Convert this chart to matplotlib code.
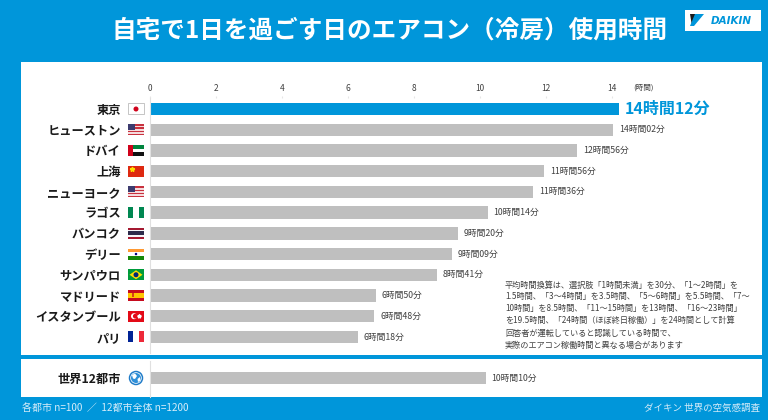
import matplotlib
matplotlib.use("Agg")
import matplotlib.pyplot as plt
from matplotlib.patches import Rectangle, Ellipse, Polygon
from matplotlib.lines import Line2D

plt.rcParams['font.family'] = ['Noto Sans CJK JP', 'DejaVu Sans']

# ---------------- data ----------------
cities = ["東京", "ヒューストン", "ドバイ", "上海", "ニューヨーク", "ラゴス",
          "バンコク", "デリー", "サンパウロ", "マドリード", "イスタンブール", "パリ"]
flags = ["jp", "us", "ae", "cn", "us", "ng", "th", "in", "br", "es", "tr", "fr"]
hours = [14, 14, 12, 11, 11, 10, 9, 9, 8, 6, 6, 6]
minutes = [12, 2, 56, 56, 36, 14, 20, 9, 41, 50, 48, 18]
world_label = "世界12都市"
world_hours = 10
world_minutes = 10
xticks = [0, 2, 4, 6, 8, 10, 12, 14]

title = "自宅で1日を過ごす日のエアコン（冷房）使用時間"
note_lines = [
    "平均時間換算は、選択肢「1時間未満」を30分、「1～2時間」を",
    "1.5時間、「3～4時間」を3.5時間、「5～6時間」を5.5時間、「7～",
    "10時間」を8.5時間、「11～15時間」を13時間、「16～23時間」",
    "を19.5時間、「24時間（ほぼ終日稼働）」を24時間として計算",
]
note2_lines = [
    "回答者が運転していると認識している時間で、",
    "実際のエアコン稼働時間と異なる場合があります",
]
footer_left = "各都市 n=100  ／  12都市全体 n=1200"
footer_right = "ダイキン 世界の空気感調査"

BLUE = "#0096DA"
GRAY = "#BFBFBF"
TXT = "#404040"

W, H = 768, 420
fig = plt.figure(figsize=(W / 100, H / 100), dpi=100, facecolor=BLUE)


def fx(x):
    return x / W


def fy(y):
    return 1 - y / H


def rect(x, y, w, h, color, **kw):
    fig.add_artist(Rectangle((fx(x), fy(y + h)), w / W, h / H, facecolor=color,
                             edgecolor=kw.pop("edgecolor", "none"),
                             transform=fig.transFigure, **kw))


def ell(cx, cy, d, color, **kw):
    fig.add_artist(Ellipse((fx(cx), fy(cy)), d / W, d / H, facecolor=color,
                           transform=fig.transFigure, **kw))


def poly(pts, color, **kw):
    fig.add_artist(Polygon([(fx(a), fy(b)) for a, b in pts], closed=True,
                           facecolor=color, edgecolor="none",
                           transform=fig.transFigure, **kw))


# white panels (behind the axes)
rect(21, 62, 741, 293, "white", zorder=-5)
rect(21, 359, 741, 38, "white", zorder=-5)

# title
fig.text(fx(390), fy(31), title, ha="center", va="center", color="white",
         fontsize=17.7, fontweight="bold")

# DAIKIN logo
rect(685, 10, 76, 21, "white")
poly([(690, 14), (702, 14), (692, 26)], "#1a1a1a")
poly([(695, 14), (704, 14), (694, 26), (690, 26)], BLUE)
fig.text(fx(731), fy(20.5), "DAIKIN", ha="center", va="center", color=BLUE,
         fontsize=7.5, fontweight="bold", fontstyle="italic", family="DejaVu Sans")

# ---------------- main axes ----------------
ax = fig.add_axes([fx(150), fy(352.5), 594 / W, (352.5 - 97.6) / H])
ax.set_facecolor("none")
vals = [h + m / 60 for h, m in zip(hours, minutes)]
ypos = list(range(len(cities)))
colors = [BLUE] + [GRAY] * (len(cities) - 1)
ax.barh(ypos, vals, height=0.6, color=colors, edgecolor="none")
ax.set_xlim(0, 18)
ax.set_ylim(11.75, -0.55)
for sp in ["top", "right", "bottom"]:
    ax.spines[sp].set_visible(False)
ax.spines["left"].set_color("#E0E0E0")
ax.spines["left"].set_linewidth(0.8)
ax.set_yticks(ypos)
ax.set_yticklabels(cities, fontsize=8.8, fontweight="bold", color="#1a1a1a")
ax.tick_params(axis="y", length=0, pad=21)
ax.xaxis.tick_top()
ax.set_xticks(xticks)
ax.set_xticklabels([str(t) for t in xticks])
ax.tick_params(axis="x", length=1.5, color="#E6E6E6", labelcolor=TXT,
               labelsize=6, pad=1.5)
fig.text(fx(643), fy(87.5), "(時間)", ha="center", va="center",
         fontsize=5.5, color=TXT)
for i, (v, h, m) in enumerate(zip(vals, hours, minutes)):
    lab = f"{h}時間{m:02d}分"
    if i == 0:
        ax.text(v + 0.2, i, lab, va="center", ha="left", color=BLUE,
                fontsize=11.5, fontweight="bold")
    else:
        ax.text(v + 0.18, i, lab, va="center", ha="left", color=TXT,
                fontsize=6.3)

# ---------------- world axes ----------------
ax2 = fig.add_axes([fx(150), fy(397), 594 / W, 36 / H])
ax2.set_facecolor("none")
wv = world_hours + world_minutes / 60
ax2.barh([0], [wv], height=0.6, color=GRAY, edgecolor="none")
ax2.set_xlim(0, 18)
ax2.set_ylim(0.92, -0.82)
for sp in ["top", "right", "bottom"]:
    ax2.spines[sp].set_visible(False)
ax2.spines["left"].set_color("#E0E0E0")
ax2.spines["left"].set_linewidth(0.8)
ax2.set_xticks([])
ax2.set_yticks([0])
ax2.set_yticklabels([world_label], fontsize=8.8, fontweight="bold", color="#1a1a1a")
ax2.tick_params(axis="y", length=0, pad=21)
ax2.text(wv + 0.18, 0, f"{world_hours}時間{world_minutes:02d}分", va="center",
         ha="left", color=TXT, fontsize=6.3)

# ---------------- flags ----------------
FX0, FW, FH = 128, 16, 11


def row_y(i):
    return 109 + i * 20.72


def draw_flag(code, yc):
    x0, y0 = FX0, yc - FH / 2
    if code == "jp":
        rect(x0, y0, FW, FH, "white", edgecolor="#BBBBBB", linewidth=0.6)
        ell(x0 + FW / 2, yc, 5, "#D0021B")
    elif code == "us":
        n = 7
        for k in range(n):
            rect(x0, y0 + k * FH / n, FW, FH / n, "#C8313E" if k % 2 == 0 else "#F4DADC")
        rect(x0, y0, 7, 6, "#3C3B6E")
    elif code == "ae":
        rect(x0, y0, FW, FH / 3, "#00843D")
        rect(x0, y0 + FH / 3, FW, FH / 3, "white", edgecolor="none")
        rect(x0, y0 + 2 * FH / 3, FW, FH / 3, "#111111")
        rect(x0, y0, 4.5, FH, "#D0021B")
    elif code == "cn":
        rect(x0, y0, FW, FH, "#DE2910")
        fig.add_artist(Line2D([fx(x0 + 3.5)], [fy(y0 + 3)], marker="*", ms=3.5,
                              color="#FFDE00", transform=fig.transFigure))
    elif code == "ng":
        rect(x0, y0, FW, FH, "white")
        rect(x0, y0, FW / 3, FH, "#008751")
        rect(x0 + 2 * FW / 3, y0, FW / 3, FH, "#008751")
    elif code == "th":
        hs = [1, 1, 2, 1, 1]
        cs = ["#A51931", "#F4F5F8", "#2D2A4A", "#F4F5F8", "#A51931"]
        yy = y0
        for hh, cc in zip(hs, cs):
            rect(x0, yy, FW, FH * hh / 6, cc)
            yy += FH * hh / 6
    elif code == "in":
        rect(x0, y0, FW, FH / 3, "#FF9933")
        rect(x0, y0 + FH / 3, FW, FH / 3, "white")
        rect(x0, y0 + 2 * FH / 3, FW, FH / 3, "#138808")
        ell(x0 + FW / 2, yc, 2.5, "#000080")
    elif code == "br":
        rect(x0, y0, FW, FH, "#009C3B")
        poly([(x0 + 1.5, yc), (x0 + FW / 2, y0 + 1), (x0 + FW - 1.5, yc),
              (x0 + FW / 2, y0 + FH - 1)], "#FFDF00")
        ell(x0 + FW / 2, yc, 5, "#002776")
    elif code == "es":
        rect(x0, y0, FW, FH, "#C60B1E")
        rect(x0, y0 + FH / 4, FW, FH / 2, "#FFC400")
        rect(x0 + 3.5, y0 + 3.5, 2.5, 4, "#C60B1E", alpha=0.7)
    elif code == "tr":
        rect(x0, y0, FW, FH, "#E30A17")
        ell(x0 + 6, yc, 6, "white")
        ell(x0 + 7.3, yc, 4.8, "#E30A17")
        fig.add_artist(Line2D([fx(x0 + 10.5)], [fy(yc)], marker="*", ms=2.8,
                              color="white", transform=fig.transFigure))
    elif code == "fr":
        rect(x0, y0, FW / 3, FH, "#002395")
        rect(x0 + FW / 3, y0, FW / 3, FH, "white")
        rect(x0 + 2 * FW / 3, y0, FW / 3, FH, "#ED2939")


for i, c in enumerate(flags):
    draw_flag(c, row_y(i))

# globe icon
gx, gy = 136, 378
ell(gx, gy, 14.5, "#1F7BC8")
ell(gx, gy, 11.5, "white")
ell(gx, gy, 10, "#2E8FD8")
poly([(gx - 4, gy - 3), (gx - 1, gy - 4.5), (gx + 1, gy - 2), (gx - 1, gy + 1),
      (gx - 3, gy + 0.5)], "white")
poly([(gx + 1.5, gy + 1), (gx + 4, gy - 1), (gx + 4.5, gy + 2.5), (gx + 2, gy + 4)],
     "white")

# ---------------- notes ----------------
for k, line in enumerate(note_lines):
    fig.text(fx(505), fy(285 + k * 11.8), line, ha="left", va="center",
             fontsize=5.9, color=TXT)
for k, line in enumerate(note2_lines):
    fig.text(fx(505), fy(333 + k * 12), line, ha="left", va="center",
             fontsize=5.9, color=TXT)

# footer
fig.text(fx(22), fy(408), footer_left, ha="left", va="center", fontsize=7.2,
         color="#D5ECF9")
fig.text(fx(760), fy(408), footer_right, ha="right", va="center", fontsize=6.8,
         color="#D5ECF9")

fig.savefig("out.png", dpi=100, facecolor=BLUE)
